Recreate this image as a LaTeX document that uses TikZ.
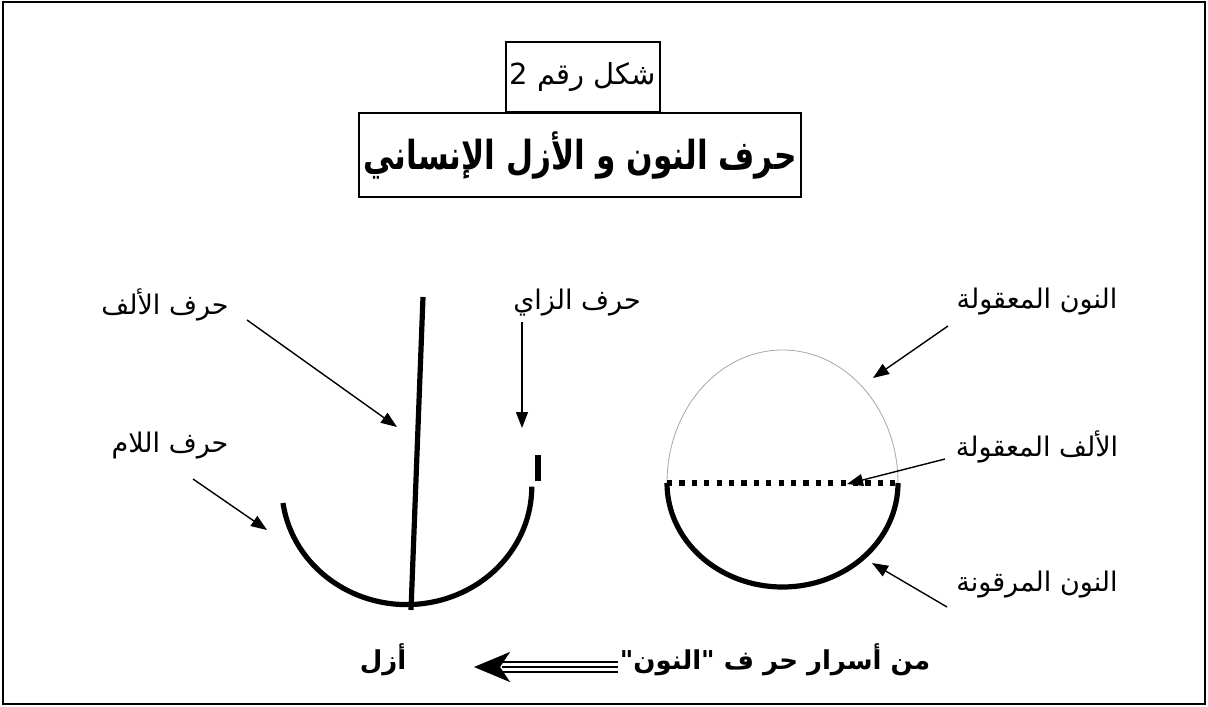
\documentclass[tikz,border=0pt]{standalone}
\usepackage{fontspec}
\usepackage{tikz}
\usetikzlibrary{arrows.meta,positioning}
\TeXXeTstate=1
\newfontfamily\arabicfont[Script=Arabic]{DejaVu Sans}
\newcommand{\ar}[1]{\arabicfont\beginR #1\endR}

\begin{document}
\begin{tikzpicture}[
    x=0.5pt, y=-0.5pt,
    every node/.style={inner sep=1pt},
    lbl/.style={font=\fontsize{13.5}{16}\selectfont},
    boldlbl/.style={font=\fontsize{13}{16}\selectfont\bfseries},
    framebox/.style={draw, line width=0.9pt, inner sep=2pt},
    pointer/.style={-{Triangle[length=8pt, width=6pt]}, line width=0.7pt},
    stroke/.style={line width=2.6pt}
  ]
    \useasboundingbox (0,0) rectangle (1208,706);
    \draw[line width=1.1pt] (3,2) rectangle (1205,704);

    % titles
    \node[framebox, minimum width=69pt, minimum height=35pt, font=\fontsize{14.5}{17}\selectfont] (fig) at (583,77) {\ar{شكل رقم 2}};
    \node[framebox, minimum width=217pt, minimum height=42pt, font=\fontsize{20}{24}\selectfont\bfseries] (title) at (580,155) {\scalebox{0.78}[1]{\ar{حرف النون و الأزل الإنساني}}};

    % left figure: azal
    \coordinate (alefTop) at (423,297);
    \coordinate (alefBot) at (411,610);
    \draw[stroke] (alefTop) -- (alefBot);
    \draw[stroke] (283,503) arc[start angle=172, end angle=0, x radius=125, y radius=118];
    \draw[stroke] (538,455) -- (538,481);

    \node[lbl] (alef) at (165,305) {\ar{حرف الألف}};
    \node[lbl] (zay) at (577,303) {\ar{حرف الزاي}};
    \node[lbl] (lam) at (170,446) {\ar{حرف اللام}};
    \coordinate (alefTip) at (397,427);
    \coordinate (zayTip) at (522,428);
    \coordinate (lamTip) at (267,530);
    \draw[pointer] (247,320) -- (alefTip);
    \draw[pointer] (522,322) -- (zayTip);
    \draw[pointer] (193,479) -- (lamTip);

    % right figure: nun
    \coordinate (nunL) at (667,483);
    \coordinate (nunR) at (898,483);
    \draw[gray!70, line width=0.4pt] (nunL) arc[start angle=180, end angle=360, x radius=115.5, y radius=133];
    \draw[stroke] (nunL) arc[start angle=180, end angle=0, x radius=115.5, y radius=104];
    \draw[line width=2.6pt, dash pattern=on 2.6pt off 3.6pt] (nunL) -- (nunR);

    \node[lbl] (maqula) at (1037,302) {\ar{النون المعقولة}};
    \node[lbl] (alefmaq) at (1037,447) {\ar{الألف المعقولة}};
    \node[lbl] (marquna) at (1037,585) {\ar{النون المرقونة}};
    \coordinate (maqTip) at (873,378);
    \coordinate (alefmaqTip) at (847,484);
    \coordinate (marTip) at (872,563);
    \draw[pointer] (948,326) -- (maqTip);
    \draw[pointer] (945,459) -- (alefmaqTip);
    \draw[pointer] (947,607) -- (marTip);

    % bottom line
    \node[boldlbl] (asrar) at (775,660) {\ar{من أسرار حر ف "النون"}};
    \node[boldlbl] (azal) at (383,660) {\ar{أزل}};
    \draw[line width=1.3pt, double distance=3.8pt, -{Stealth[length=18pt, width=15pt, inset=5pt]}] (asrar.west) ++(0,7) coordinate (arrS) -- (474,667);
    \draw[line width=1.3pt, shorten >=14pt] (arrS) -- (474,667);
\end{tikzpicture}
\end{document}
